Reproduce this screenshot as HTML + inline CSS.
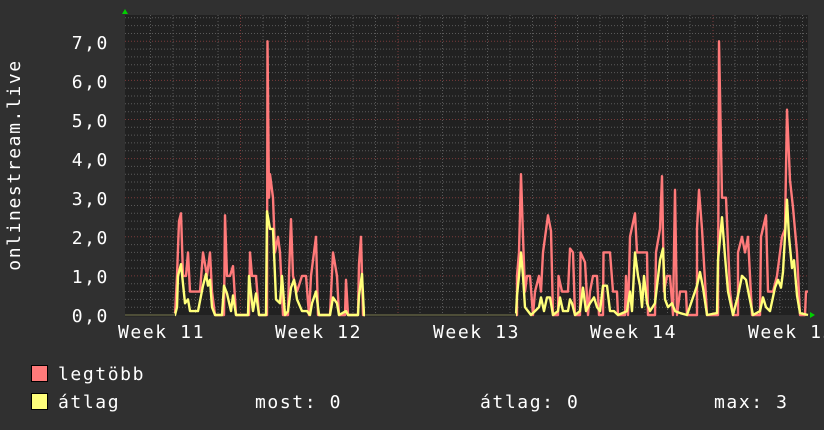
<!DOCTYPE html>
<html><head><meta charset="utf-8"><style>
html,body{margin:0;padding:0;background:#303030;}
svg{display:block}
text{font-family:"DejaVu Sans Mono","Liberation Mono",monospace;font-size:18px;fill:#fff;letter-spacing:1.6px}
</style></head><body>
<svg width="824" height="430" viewBox="0 0 824 430" xmlns="http://www.w3.org/2000/svg">
<rect width="824" height="430" fill="#303030"/>
<rect x="125" y="15" width="683" height="300" fill="#212121"/>
<g stroke="#5a5a5a" stroke-width="1" stroke-dasharray="1,2">
<path d="M125 307.2H808M125 299.4H808M125 291.5H808M125 283.7H808M125 268.1H808M125 260.3H808M125 252.4H808M125 244.6H808M125 229H808M125 221.1H808M125 213.3H808M125 205.5H808M125 189.9H808M125 182H808M125 174.2H808M125 166.4H808M125 150.8H808M125 142.9H808M125 135.1H808M125 127.3H808M125 111.7H808M125 103.8H808M125 96H808M125 88.2H808M125 72.6H808M125 64.7H808M125 56.9H808M125 49.1H808M125 33.5H808M125 25.6H808M125 17.8H808"/>
<path d="M150.5 15V315M173 15V315M195.5 15V315M218 15V315M263 15V315M285.5 15V315M308 15V315M330.5 15V315M353 15V315M375.5 15V315M420 15V315M442.5 15V315M465 15V315M487.5 15V315M510 15V315M532.5 15V315M577.5 15V315M600 15V315M622.5 15V315M645 15V315M667.5 15V315M690 15V315M735 15V315M757.5 15V315M780 15V315M802.5 15V315"/>
</g>
<g stroke="#7a3a3a" stroke-width="1" stroke-dasharray="1,2">
<path d="M125 275.9H808M125 236.8H808M125 197.7H808M125 158.6H808M125 119.5H808M125 80.4H808M125 41.3H808"/>
<path d="M240.5 15V315M398 15V315M555.5 15V315M713 15V315"/>
</g>
<g transform="translate(0,315) scale(1,-39.1)" fill="none" stroke-width="2.4" stroke-linejoin="round">
<polyline vector-effect="non-scaling-stroke" stroke="#ff7a7a" points="125,0 175,0 177,1 179,2.4 181,2.6 183,1 186,1 188,1.6 190,0.6 200,0.6 203,1.6 207,1 210,1.6 212,0.6 215,0 224,0 225,2.55 227,1 230,1 233,1.25 236,0 249,0 250,1.6 252,1 256,1 259,0 267,0 267.5,7 269,3 270,3.6 273,3 275,1.6 278,2 280,1.6 283,0 288,0 289,1 291,2.45 293,1 297,0.6 302,1 306,1 309,0 311,1 316,2 318,0 330,0 333,1.6 337,1 339,0 345,0 346,0.9 348,0 358,0 359,1.3 361,2 363,0 517,0 517,1 519,1.6 521,3.6 523,2 525,0.6 527,1 530,1 533,0 535,0.6 539,1 541,0.6 543,1.6 548,2.55 551,2.15 553,0 558,0 558.5,1 562,0.6 568,0.6 570,1.7 573,1.6 575,0 580,0 580.5,1.6 585,1.35 588,0 590,0.6 593,1 597,1 599,0 603,0 603.5,1.6 610,1.6 613,0.6 617,0.6 618,0 625,0 626,1 628,0 630,2 635,2.6 637,1.6 647,1.6 648,0 655,0 656,1.6 660,2.2 662,3.55 664,0.6 667,1 670,1 673,0 675,3.2 677,0 680,0.6 686,0.6 687,0 697,0 697,2.2 699,3.2 702,2.2 707,0 718,0 719,7 722,3 726,3 730,0.6 733,0 738,0 738,1.6 742,2 745,1.6 748,2 752,0 760,0 761,2 766,2.55 768,0.6 773,0.6 777,1 782,2 785,2.2 787,5.25 790,3.45 793,2.75 797,1.6 800,0 805,0 806,0.6 808,0.6"/>
<polyline vector-effect="non-scaling-stroke" stroke="#ffff7a" points="125,0 175,0 177,0.2 178,1 181,1.3 183,0.8 185,0.3 188,0.4 190,0.1 198,0.1 203,0.75 206,1.05 208,0.75 210,0.9 212,0.2 215,0 222,0 224,0.75 227,0.55 231,0.1 233,0.5 236,0 248,0 249,1 253,0.1 256,0.55 259,0 266,0 267,2.65 270,2.2 273,2.2 276,0.4 280,0.3 282,1 285,0 288,0.1 291,0.7 294,0.9 297,0.4 302,0.1 307,0.1 310,0 312,0.3 316,0.6 319,0 330,0 333,0.45 337,0.3 339,0 346,0.1 348,0 358,0 359,0.5 362,1.05 364,0 516,0 517,0.5 519,1 521,1.6 523,1 525,0.2 528,0.1 531,0 535,0.1 539,0.2 541,0.45 544,0.1 547,0.45 550,0.45 553,0 558,0.1 560,0.45 563,0.1 568,0.1 570,0.4 572,0.3 575,0 580,0.1 583,0.7 586,0.1 590,0.3 594,0.45 597,0.2 600,0.1 603,0.75 607,0.75 610,0.1 614,0.1 618,0 627,0.1 630,0.6 632,0.1 635,1.6 638,1 640,0.75 642,0.2 644,1 647,0.3 650,0.1 655,0.3 660,1.4 663,1.7 665,0.4 668,0.2 672,0.3 675,0.1 680,0.05 687,0 697,0.75 700,1.1 703,0.7 707,0 717,0.05 718,1.4 722,2.5 725,1.5 728,0.6 733,0 738,0.5 742,1 746,0.9 749,0.5 753,0 760,0.1 763,0.45 766,0.2 770,0.1 775,0.7 778,0.9 781,0.7 783,1.1 787,2.95 789,2 792,1.2 794,1.4 797,0.5 800,0.05 808,0"/>
</g>
<rect x="125" y="313.5" width="50" height="3" fill="#212121"/>
<rect x="365" y="313.5" width="151" height="3" fill="#212121"/>
<path d="M125 315H175M365 315H516" stroke="#5e5e40" stroke-width="1.5"/>
<path d="M122 14L125 9L128 14Z" fill="#00d000"/>
<path d="M810 312L815 315L810 318Z" fill="#00d000"/>
<g text-anchor="end">
<text x="109" y="322">0,0</text><text x="109" y="283">1,0</text><text x="109" y="244">2,0</text><text x="109" y="205">3,0</text><text x="109" y="166">4,0</text><text x="109" y="127">5,0</text><text x="109" y="88">6,0</text><text x="109" y="49">7,0</text>
</g>
<text x="118" y="338">Week 11</text><text x="275" y="338">Week 12</text><text x="433" y="338">Week 13</text><text x="590" y="338">Week 14</text><text x="748" y="338">Week 15</text>
<text transform="translate(20,165) rotate(-90)" text-anchor="middle">onlinestream.live</text>
<rect x="31.5" y="365.5" width="16" height="16" fill="#ff7a7a" stroke="#000"/>
<rect x="31.5" y="393.5" width="16" height="16" fill="#ffff7a" stroke="#000"/>
<text x="58" y="380">legtöbb</text>
<text x="58" y="408">átlag</text>
<text x="255" y="408">most: 0</text>
<text x="480" y="408">átlag: 0</text>
<text x="714" y="408">max: 3</text>
</svg>
</body></html>
